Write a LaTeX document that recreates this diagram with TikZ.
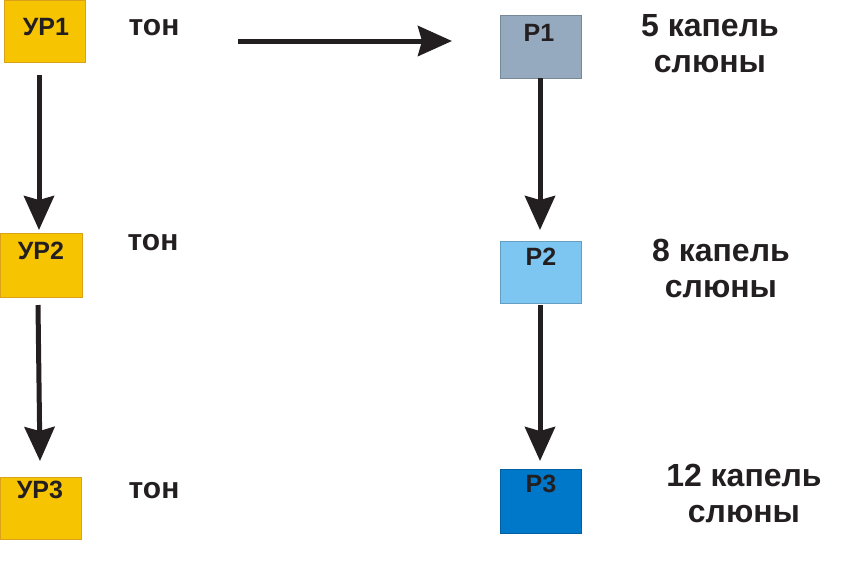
\documentclass[tikz,border=0pt]{standalone}
\usepackage{fontspec}
\setmainfont{Liberation Sans}
\usetikzlibrary{arrows.meta}
\definecolor{gold}{HTML}{F6C400}
\definecolor{goldline}{HTML}{D9A21A}
\definecolor{pone}{HTML}{95AABF}
\definecolor{ptwo}{HTML}{7DC6F1}
\definecolor{pthree}{HTML}{0078C9}
\definecolor{ink}{HTML}{231F20}
\tikzset{
  urbox/.style={draw=goldline, line width=0.8pt, fill=gold},
  rbox/.style={draw=#1!80!black, line width=0.8pt, fill=#1},
  boxlabel/.style={font=\fontsize{25}{28}\selectfont\bfseries, text=ink, inner sep=0pt},
  tonlabel/.style={font=\fontsize{30}{32}\selectfont\bfseries, text=ink, inner sep=0pt},
  note/.style={font=\fontsize{32}{36}\selectfont\bfseries, text=ink, align=center, inner sep=0pt},
  bigarrow/.style={line width=5pt, draw=ink, -{Stealth[length=34pt,width=30pt,inset=4pt,fill=ink]}}
}
\begin{document}
\begin{tikzpicture}[x=1pt,y=-1pt]
\useasboundingbox (0,0) rectangle (864,566);
% left column boxes
\draw[urbox] (4,0) rectangle (85,62);
\node[boxlabel] (ur1) at (46,27) {УР1};
\coordinate (ur1b) at (39,75);
\draw[urbox] (0,233) rectangle (82,297);
\node[boxlabel] (ur2) at (41,251) {УР2};
\coordinate (ur2t) at (39,230);
\coordinate (ur2b) at (38,305);
\draw[urbox] (0,477) rectangle (81,539);
\node[boxlabel] (ur3) at (40,490) {УР3};
\coordinate (ur3t) at (40,461);
% тон labels
\node[tonlabel] (ton1) at (154,28) {тон};
\node[tonlabel] (ton2) at (153,243) {тон};
\node[tonlabel] (ton3) at (154,491) {тон};
% right column boxes
\draw[rbox=pone] (500,15) rectangle (581,78);
\node[boxlabel] (p1) at (539,33) {Р1};
\coordinate (p1b) at (540,78);
\draw[rbox=ptwo] (500,241) rectangle (581,303);
\node[boxlabel] (p2) at (541,257) {Р2};
\coordinate (p2t) at (540,230);
\coordinate (p2b) at (540,305);
\draw[rbox=pthree] (500,469) rectangle (581,533);
\node[boxlabel] (p3) at (541,484) {Р3};
\coordinate (p3t) at (540,461);
% notes
\node[note] (n1) at (710,44) {5 капель\\слюны};
\node[note] (n2) at (721,268) {8 капель\\слюны};
\node[note] (n3) at (744,493) {12 капель\\слюны};
% arrows
\coordinate (hstart) at (238,41);
\coordinate (hend) at (452,41);
\draw[bigarrow] (hstart) -- (hend);
\draw[bigarrow] (ur1b) -- (ur2t);
\draw[bigarrow] (ur2b) -- (ur3t);
\draw[bigarrow] (p1b) -- (p2t);
\draw[bigarrow] (p2b) -- (p3t);
\end{tikzpicture}
\end{document}
